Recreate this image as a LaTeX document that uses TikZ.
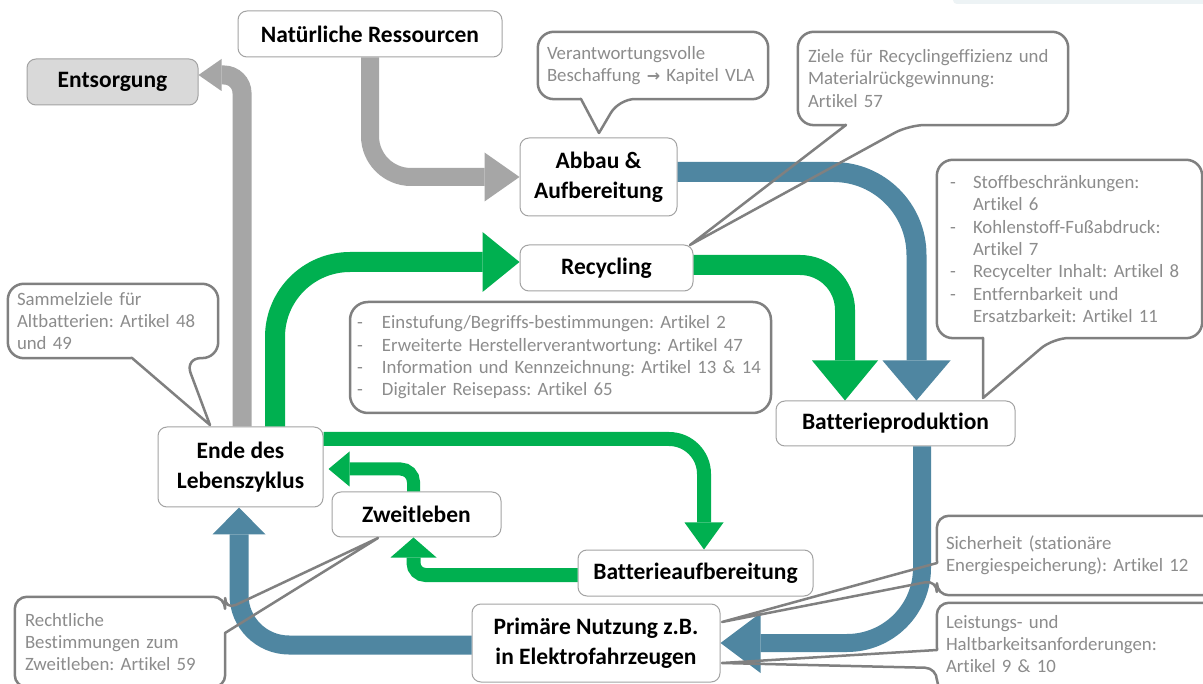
\documentclass[tikz,border=0pt]{standalone}
\usepackage{fontspec}
\setmainfont{Carlito}[Ligatures=NoCommon]
\newfontfamily\symfont{DejaVu Sans}
\usetikzlibrary{arrows.meta,calc}
\definecolor{arrgray}{HTML}{A6A6A6}
\definecolor{arrblue}{HTML}{4F86A1}
\definecolor{arrgreen}{HTML}{00B050}
\definecolor{nodeborder}{HTML}{A3A3A3}
\definecolor{callborder}{HTML}{808080}
\definecolor{calltext}{HTML}{8C8C8C}
\definecolor{entsfill}{HTML}{D9D9D9}
\definecolor{topbar}{HTML}{EDF3F5}
\newcommand{\dashitem}{\makebox[23pt][l]{-}}
\newcommand{\dashgap}{\hspace*{23pt}}
\frenchspacing
\begin{document}
\begin{tikzpicture}[x=1pt,y=-1pt,
  box/.style={draw=nodeborder, line width=1pt, fill=white, rounded corners=9pt,
    font=\fontsize{23.5}{29.5}\selectfont\bfseries, align=center, inner sep=0pt},
  cbox/.style={fill=white, rounded corners=16pt, font=\fontsize{18.8}{22.3}\selectfont\frenchspacing,
    text=calltext, align=left, inner ysep=0pt},
  cline/.style={draw=callborder, line width=2.5pt, rounded corners=16pt, line join=round},
  shaft/.style={line width=#1, line cap=butt},
  tipx/.style n args={2}{-{Triangle[width=#1,length=#2,line width=0pt]}},
]
\useasboundingbox (0,0) rectangle (1203,684);
\clip (0,0) rectangle (1203,684);
\fill[white] (0,0) rectangle (1203,684);
\fill[topbar, rounded corners=4pt] (953,-10) rectangle (1215,4);

% main nodes
\node[box, minimum width=264pt, minimum height=46pt] (nat) at (370,34) {Natürliche Ressourcen};
\node[box, fill=entsfill, minimum width=171pt, minimum height=46pt] (ents) at (112.5,82) {Entsorgung};
\node[box, minimum width=157pt, minimum height=78pt] (abbau) at (598.5,177) {Abbau \&\\Aufbereitung};
\node[box, minimum width=173pt, minimum height=46pt] (recyc) at (606.5,268) {Recycling};
\node[box, minimum width=239pt, minimum height=45pt] (bprod) at (895.5,423.5) {Batterieproduktion};
\node[box, minimum width=165pt, minimum height=80pt] (ende) at (240.5,467) {Ende des\\Lebenszyklus};
\node[box, minimum width=169pt, minimum height=45pt] (zweit) at (416.5,514.5) {Zweitleben};
\node[box, minimum width=235pt, minimum height=46pt] (baufb) at (695.5,573) {Batterieaufbereitung};
\node[box, minimum width=248pt, minimum height=78pt] (prim) at (596,643) {Primäre Nutzung z.B.\\in Elektrofahrzeugen};

% gray arrows
\draw[arrgray, shaft=18pt, rounded corners=41pt, tipx={49pt}{35pt}] (nat.south) |- (abbau.west);
\draw[arrgray, shaft=19pt, rounded corners=18pt, tipx={32pt}{23pt}] ([xshift=1.5pt]ende.north) |- ([yshift=7pt]ents.east);
% blue arrows
\draw[arrblue, shaft=20pt, rounded corners=83pt, tipx={68pt}{40pt}] ([yshift=5pt]abbau.east) -| ([xshift=21pt]bprod.north);
\draw[arrblue, shaft=18pt, rounded corners=75pt, tipx={60pt}{40pt}] ([xshift=26.5pt]bprod.south) |- (prim.east);
\draw[arrblue, shaft=19pt, rounded corners=50pt, tipx={53pt}{27pt}] ([yshift=-2pt]prim.west) -| ([xshift=-1.5pt]ende.south);
% green arrows
\draw[arrgreen, shaft=20pt, rounded corners=75pt, tipx={60pt}{37pt}] ([xshift=34.5pt]ende.north) |- ([yshift=6pt]recyc.west);
\draw[arrgreen, shaft=20pt, rounded corners=45pt, tipx={66pt}{40pt}] ([yshift=3pt]recyc.east) -| ([xshift=-50.5pt]bprod.north);
\draw[arrgreen, shaft=14pt, rounded corners=35pt, tipx={39pt}{27pt}] ([yshift=28pt]ende.east) -| ([xshift=8.5pt]baufb.north);
\draw[arrgreen, shaft=13pt, rounded corners=13pt, tipx={35pt}{21pt}] ([xshift=-3pt]zweit.north) |- ([xshift=5pt,yshift=-2pt]ende.east);
\draw[arrgreen, shaft=14pt, rounded corners=12pt, tipx={46pt}{20pt}] ([yshift=-2pt]baufb.west) -| ([xshift=-3pt]zweit.south);

% callouts
\node[cbox, minimum width=230pt, minimum height=67pt, text width=212pt, inner xsep=9pt] (c1) at (653,65.5)
  {Verantwortungsvolle\\Beschaffung {\fontsize{16}{22.3}\symfont\bfseries →} Kapitel VLA};
\node[cbox, minimum width=270pt, minimum height=93pt, text width=250pt, inner xsep=10pt] (c2) at (933,78.5)
  {Ziele für Recyclingeffizienz und\\Materialrückgewinnung:\\Artikel 57};
\node[cbox, minimum width=265pt, minimum height=178pt, text width=239pt, inner xsep=13pt] (c3) at (1069.5,249)
  {\dashitem Stoffbeschränkungen:\\\dashgap Artikel 6\\\dashitem Kohlenstoff-Fußabdruck:\\\dashgap Artikel 7\\\dashitem Recycelter Inhalt: Artikel 8\\\dashitem Entfernbarkeit und\\\dashgap Ersatzbarkeit: Artikel 11};
\node[cbox, minimum width=210pt, minimum height=74pt, text width=192pt, inner xsep=9pt] (c4) at (113,321)
  {Sammelziele für\\Altbatterien: Artikel 48\\und 49};
\node[cbox, draw=callborder, line width=2.5pt, rounded corners=18pt, minimum width=421pt, minimum height=111pt, text width=407pt, inner xsep=7pt] (cl) at (560.5,357.5)
  {\makebox[25pt][l]{-}Einstufung/Begriffs-bestimmungen: Artikel 2\\\makebox[25pt][l]{-}Erweiterte Herstellerverantwortung: Artikel 47\\\makebox[25pt][l]{-}Information und Kennzeichnung: Artikel 13 \& 14\\\makebox[25pt][l]{-}Digitaler Reisepass: Artikel 65};
\node[cbox, rounded corners=12pt, minimum width=210pt, minimum height=90pt, text width=190pt, inner xsep=10pt] (c5) at (120,642)
  {Rechtliche\\Bestimmungen zum\\Zweitleben: Artikel 59};
\node[cbox, rounded corners=12pt, minimum width=278pt, minimum height=79pt, text width=260pt, inner xsep=9pt] (c6) at (1076,555.5)
  {Sicherheit (stationäre\\Energiespeicherung): Artikel 12};
\node[cbox, rounded corners=12pt, minimum width=278pt, minimum height=88pt, text width=260pt, inner xsep=9pt] (c7) at (1076,647)
  {Leistungs- und\\Haltbarkeitsanforderungen:\\Artikel 9 \& 10\vspace*{6pt}};

% callout outlines with pointers
\draw[cline] (581,99) -- (c1.south west) -- (c1.north west) -- (c1.north east) -- (c1.south east) -- (619,99) [sharp corners] -- (599,133) -- cycle;
\draw[cline] (846,125) -- (c2.south west) -- (c2.north west) -- (c2.north east) -- (c2.south east) -- (909,125) [sharp corners] -- (690,245) -- cycle;
\draw[cline] (983,338) -- (c3.south west) -- (c3.north west) -- (c3.north east) -- (c3.south east) -- (1053,338) [sharp corners] -- (983,398) -- cycle;
\draw[cline] (132,358) -- (c4.south west) -- (c4.north west) -- (c4.north east) -- (c4.south east) -- (185,358) [sharp corners] -- (210,425) -- cycle;
\draw[cline, rounded corners=12pt] (225,633) -- (c5.south east) -- (c5.south west) -- (c5.north west) -- (c5.north east) -- (225,610) [sharp corners] -- (378,538) -- cycle;
\draw[cline, rounded corners=12pt] (937,563) -- (c6.north west) -- (c6.north east) -- (c6.south east) -- (c6.south west) -- (937,580) [sharp corners] -- (722,622) -- cycle;
\draw[cline, rounded corners=12pt] (937,650) -- (c7.north west) -- (c7.north east) -- (c7.south east) -- (c7.south west) -- (937,668) [sharp corners] -- (722,663) -- cycle;
\end{tikzpicture}
\end{document}
